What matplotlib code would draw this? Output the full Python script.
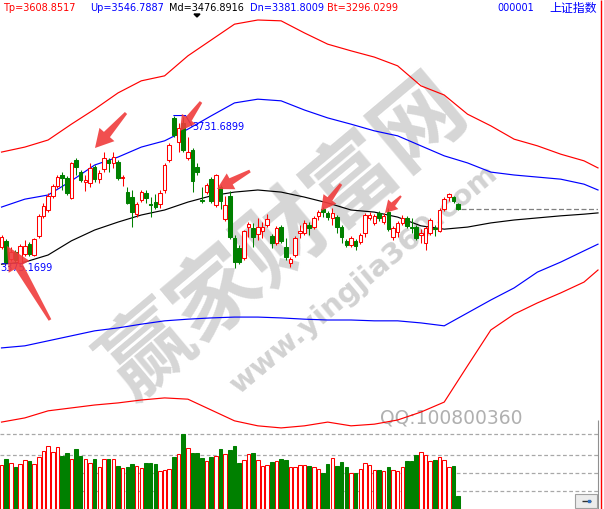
import matplotlib
matplotlib.use('Agg')
import matplotlib.pyplot as plt
from matplotlib.patches import Rectangle, Polygon
import numpy as np

# ---------------- data ----------------
opens = [3416, 3431, 3387, 3404, 3378, 3399, 3423, 3397, 3443, 3491,
         3505, 3539, 3563, 3589, 3582, 3534, 3625, 3596, 3572, 3570,
         3608, 3579, 3603, 3625, 3618, 3620, 3582, 3548, 3536, 3495,
         3529, 3546, 3519, 3524, 3519, 3553, 3625, 3726, 3668, 3714,
         3630, 3649, 3608, 3529, 3548, 3579, 3517, 3560, 3483, 3539,
         3438, 3414, 3390, 3464, 3462, 3447, 3455, 3469, 3443, 3426,
         3464, 3416, 3378, 3397, 3450, 3450, 3469, 3464, 3491, 3507,
         3498, 3486, 3488, 3464, 3431, 3421, 3431, 3428, 3450, 3486,
         3474, 3498, 3476, 3500, 3440, 3452, 3474, 3486, 3464, 3464,
         3445, 3426, 3450, 3462, 3455, 3507, 3536, 3536, 3519]
highs = [3445, 3435, 3416, 3409, 3423, 3433, 3428, 3438, 3495, 3522,
         3546, 3567, 3589, 3596, 3587, 3620, 3630, 3601, 3589, 3618,
         3613, 3601, 3644, 3630, 3644, 3625, 3589, 3560, 3553, 3524,
         3553, 3553, 3536, 3543, 3553, 3618, 3666, 3731.69, 3714, 3728,
         3680, 3654, 3618, 3560, 3570, 3584, 3591, 3565, 3539, 3551,
         3445, 3421, 3457, 3476, 3474, 3486, 3476, 3495, 3447, 3467,
         3469, 3438, 3392, 3443, 3469, 3481, 3476, 3491, 3505, 3512,
         3503, 3510, 3493, 3469, 3435, 3443, 3435, 3450, 3498, 3500,
         3495, 3503, 3498, 3510, 3467, 3479, 3493, 3491, 3486, 3469,
         3459, 3467, 3486, 3469, 3510, 3536, 3546, 3539, 3522]
lows = [3411, 3378, 3383, 3378, 3375.17, 3395, 3395, 3395, 3438, 3486,
        3500, 3534, 3558, 3553, 3541, 3531, 3589, 3572, 3551, 3560,
        3572, 3570, 3596, 3596, 3606, 3577, 3563, 3519, 3464, 3488,
        3524, 3522, 3488, 3507, 3510, 3546, 3620, 3680, 3644, 3644,
        3625, 3548, 3589, 3522, 3543, 3522, 3512, 3507, 3479, 3435,
        3366, 3375, 3385, 3440, 3416, 3433, 3438, 3464, 3414, 3421,
        3426, 3385, 3368, 3392, 3438, 3445, 3445, 3459, 3481, 3488,
        3481, 3469, 3450, 3426, 3416, 3416, 3409, 3423, 3440, 3481,
        3469, 3479, 3471, 3455, 3433, 3440, 3469, 3462, 3450, 3433,
        3426, 3409, 3445, 3443, 3452, 3503, 3527, 3522, 3505]
closes = [3440, 3380, 3404, 3385, 3419, 3419, 3399, 3435, 3491, 3515,
          3539, 3563, 3584, 3582, 3546, 3618, 3608, 3577, 3577, 3606,
          3579, 3594, 3630, 3618, 3632, 3582, 3584, 3522, 3500, 3519,
          3548, 3534, 3517, 3512, 3546, 3613, 3661, 3685, 3702, 3649,
          3644, 3575, 3596, 3527, 3565, 3527, 3589, 3527, 3517, 3440,
          3380, 3380, 3455, 3471, 3440, 3464, 3464, 3483, 3426, 3462,
          3431, 3392, 3387, 3438, 3455, 3474, 3462, 3486, 3500, 3500,
          3488, 3498, 3464, 3440, 3421, 3438, 3419, 3445, 3493, 3493,
          3491, 3486, 3491, 3459, 3462, 3474, 3486, 3467, 3462, 3438,
          3450, 3462, 3481, 3459, 3505, 3531, 3543, 3527, 3507]
volumes = [131, 149, 136, 125, 133, 145, 143, 133, 155, 172,
           187, 169, 184, 158, 167, 148, 179, 158, 148, 136,
           149, 124, 148, 149, 148, 128, 121, 125, 134, 127,
           121, 137, 137, 134, 112, 115, 118, 155, 163, 224,
           181, 167, 167, 152, 143, 155, 157, 179, 163, 176,
           188, 137, 145, 163, 167, 145, 127, 130, 140, 142,
           149, 146, 124, 124, 130, 131, 128, 124, 118, 108,
           134, 151, 128, 140, 125, 106, 108, 118, 136, 130,
           115, 116, 112, 125, 115, 112, 124, 143, 143, 161,
           169, 160, 142, 146, 154, 145, 124, 128, 38]
vol_grid = [53, 106, 161, 223]

band_idx = [0, 5, 10, 15, 20, 25, 30, 35, 40, 45, 50, 55, 60, 65, 70,
            75, 80, 85, 90, 95, 100, 105, 110, 115, 120, 125, 128]
band_tp = [3644, 3656, 3673, 3711, 3747, 3786, 3815, 3827, 3875, 3913, 3951, 3961, 3959, 3930,
           3903, 3887, 3872, 3851, 3803, 3781, 3735, 3707, 3675, 3659, 3639, 3623, 3606]
band_up = [3512, 3531, 3541, 3575, 3613, 3632, 3656, 3671, 3699, 3731, 3762, 3771, 3767, 3745,
           3726, 3711, 3695, 3683, 3659, 3635, 3618, 3596, 3589, 3584, 3579, 3567, 3553]
band_md = [3375, 3380, 3397, 3431, 3457, 3476, 3493, 3505, 3524, 3539, 3548, 3553, 3548, 3536,
           3522, 3505, 3500, 3488, 3467, 3459, 3464, 3474, 3481, 3486, 3491, 3495, 3498]
band_dn = [3174, 3179, 3191, 3203, 3215, 3222, 3231, 3239, 3243, 3246, 3248, 3248, 3246, 3243,
           3241, 3241, 3239, 3239, 3234, 3227, 3258, 3289, 3318, 3356, 3380, 3407, 3423]
band_bt = [2996, 3006, 3023, 3030, 3037, 3042, 3049, 3054, 3051, 3025, 2999, 2987, 2982, 2987,
           2996, 2987, 2991, 3001, 3020, 3044, 3131, 3217, 3255, 3282, 3306, 3332, 3361]

header = [("Tp=3608.8517", "#FF0000", 3), ("Up=3546.7887", "#0000FF", 90),
          ("Md=3476.8916", "#000000", 169), ("Dn=3381.8009", "#0000FF", 250),
          ("Bt=3296.0299", "#FF0000", 327)]
code_text = "000001"
name_text = "上证指数"
high_label = "3731.6899"
low_label = "3375.1699"

RED = "#FF0000"
GREEN = "#008000"
BLUE = "#0000FF"

# ---------------- figure ----------------
W, H = 604, 509
plt.rcParams['font.family'] = ['DejaVu Sans']
fig = plt.figure(figsize=(W / 100, H / 100), dpi=100, facecolor='white')

# background layer (watermark)
bg = fig.add_axes([0, 0, 1, 1], zorder=0)
bg.set_xlim(0, W); bg.set_ylim(H, 0); bg.axis('off')
bg.text(285, 238, "赢家财富网", family=['Noto Sans CJK SC', 'DejaVu Sans'], fontsize=64,
        fontweight='bold', color='#D6D6D6', rotation=40, rotation_mode='anchor',
        ha='center', va='center')
bg.text(364, 279, "www.yingjia360.com", fontsize=21, fontweight='bold', color='#D2D2D2',
        rotation=40, rotation_mode='anchor', ha='center', va='center')
bg.text(451, 418, "QQ:100800360", fontsize=13.5, color='#B0B0B0', ha='center', va='center')

# main price panel
n = len(opens)
xmin, xmax = -0.322, 128.0
ax = fig.add_axes([0, 0, 598 / W, (H - 20) / H], zorder=1)
ax.set_facecolor('none')
ax.set_xlim(xmin, xmax)
ax.set_ylim(4009 - 2.4 * 509, 4009 - 2.4 * 20)
ax.axis('off')

for xs, ys, col in [(band_idx, band_tp, RED), (band_idx, band_up, BLUE),
                    (band_idx, band_md, '#000000'), (band_idx, band_dn, BLUE),
                    (band_idx, band_bt, RED)]:
    ax.plot(xs, ys, color=col, lw=0.85, clip_on=False, zorder=2)

w = 0.76
LW = 0.75
for i in range(n):
    o, h, l, c = opens[i], highs[i], lows[i], closes[i]
    up = c >= o
    col = RED if up else GREEN
    top, bot = max(o, c), min(o, c)
    ax.vlines(i, top, h, color=col, lw=LW, zorder=3)
    ax.vlines(i, l, bot, color=col, lw=LW, zorder=3)
    if top - bot < 1.5:
        ax.hlines(top, i - w / 2, i + w / 2, color=col, lw=1.0, zorder=3)
    else:
        ax.add_patch(Rectangle((i - w / 2, bot), w, top - bot,
                               facecolor='white' if up else col, edgecolor=col,
                               lw=LW, zorder=4))

# current price dashed line
ax.hlines(closes[-1], n - 0.5, xmax, color='#808080', lw=0.9, linestyles=(0, (4, 2)), zorder=2)

# high / low labels
hi_i = int(np.argmax(highs))
ax.plot([hi_i, hi_i + 2.5, hi_i + 3.9], [highs[hi_i], highs[hi_i], 3706],
        color=BLUE, lw=0.8, zorder=2)
ax.text(hi_i + 4.0, 3704, high_label, color=BLUE, fontsize=7, ha='left', va='center', zorder=5)
ax.text(-0.3, 3366, low_label, color=BLUE, fontsize=7, ha='left', va='center', zorder=5)

# volume panel
vax = fig.add_axes([0, 0.3 / H, 598 / W, 80 / H], zorder=1)
vax.set_facecolor('none')
vax.set_xlim(xmin, xmax)
vax.set_ylim(0, 240)
vax.axis('off')
for g in vol_grid:
    vax.axhline(g, color='#A8A8A8', lw=0.9, linestyle=(0, (3, 2)), zorder=1)
for i in range(n):
    up = closes[i] >= opens[i]
    col = RED if up else GREEN
    vax.add_patch(Rectangle((i - w / 2, 0), w, volumes[i],
                            facecolor='white' if up else col, edgecolor=col,
                            lw=LW, zorder=3))

# foreground overlay: header, arrows, border
ov = fig.add_axes([0, 0, 1, 1], zorder=5)
ov.set_facecolor('none')
ov.set_xlim(0, W); ov.set_ylim(H, 0); ov.axis('off')

for txt, col, x in header:
    ov.text(x, 8, txt, color=col, fontsize=7, ha='left', va='center')
ov.text(497, 8, code_text, color=BLUE, fontsize=7, ha='left', va='center')
ov.text(597, 8, name_text, color=BLUE, fontsize=8.6, ha='right', va='center',
        family=['Noto Sans CJK SC', 'DejaVu Sans'])
ov.add_patch(Polygon([(194, 14), (200, 14), (197, 17)], closed=True, color='black'))


def arrow(tail, tip, head_w, head_l, tail_w, neck_w):
    t = np.array(tail, float); p = np.array(tip, float)
    d = (p - t) / np.linalg.norm(p - t)
    nrm = np.array([-d[1], d[0]])
    neck = p - d * head_l
    pts = [t + nrm * tail_w / 2, neck + nrm * neck_w / 2, neck + nrm * head_w / 2, p,
           neck - nrm * head_w / 2, neck - nrm * neck_w / 2, t - nrm * tail_w / 2]
    ov.add_patch(Polygon(pts, closed=True, facecolor='#F03C3C', edgecolor='none',
                         alpha=0.9, zorder=6))


arrow((126, 113), (95, 148), 20, 18, 3, 8)
arrow((201, 102), (180, 131), 17, 15, 3, 7)
arrow((250, 171), (217, 189), 18, 16, 3, 7)
arrow((341, 184), (321, 211), 16, 15, 3, 6)
arrow((401, 196), (385, 213), 14, 12, 2, 5)
arrow((50, 320), (7, 246), 24, 24, 3, 9)

ov.vlines(600.5, 0, H, color=RED, lw=1.0)
ov.vlines(598, 420, H, color='#909090', lw=0.8)
ov.add_patch(Rectangle((575, 494), 22, 14, facecolor='#ECECEC', edgecolor='#A0A0A0', lw=0.8))
ov.hlines(501, 582, 591, color='#303030', lw=1.0)
ov.plot([589], [501], marker='s', ms=1.5, color='#3070C0')

fig.savefig('out.png', dpi=100, facecolor='white')
